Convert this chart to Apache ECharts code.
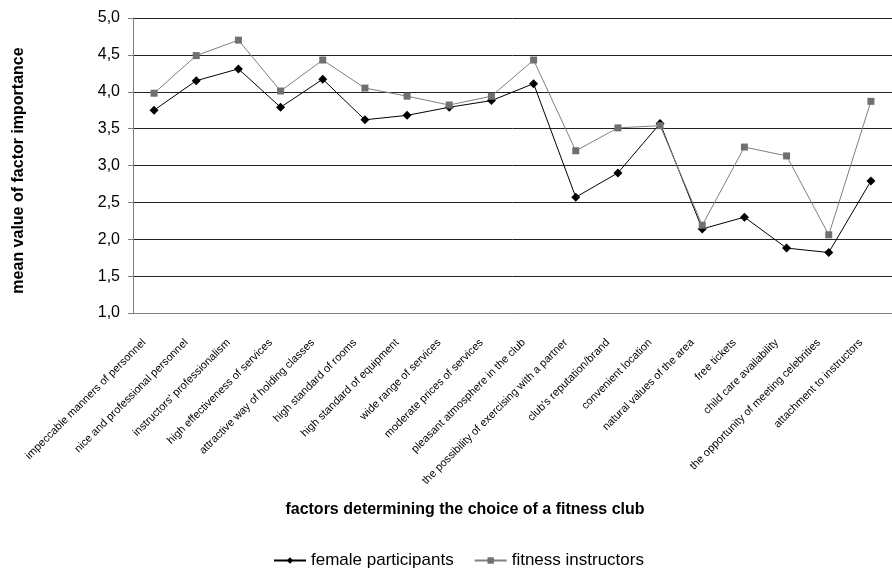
<!DOCTYPE html>
<html>
<head>
<meta charset="utf-8">
<script src="https://cdn.jsdelivr.net/npm/echarts@6/dist/echarts.min.js"></script>
<style>
  html, body { margin: 0; padding: 0; background: #fff; }
  #chart { width: 892px; height: 576px; }
</style>
</head>
<body>
<div id="chart"></div>
<script>
// Factors determining the choice of a fitness club
const factors = [
  'impeccable manners of personnel',
  'nice and professional personnel',
  "instructors' professionalism",
  'high effectiveness of services',
  'attractive way of holding classes',
  'high standard of rooms',
  'high standard of equipment',
  'wide range of services',
  'moderate prices of services',
  'pleasant atmosphere in the club',
  'the possibility of exercising with a partner',
  "club's reputation/brand",
  'convenient location',
  'natural values of the area',
  'free tickets',
  'child care availability',
  'the opportunity of meeting celebrities',
  'attachment to instructors'
];

// Mean importance ratings
const femaleParticipants = [3.75, 4.15, 4.31, 3.79, 4.17, 3.62, 3.68, 3.79, 3.88, 4.11, 2.57, 2.90, 3.57, 2.14, 2.30, 1.88, 1.82, 2.79];
const fitnessInstructors = [3.98, 4.49, 4.70, 4.01, 4.43, 4.05, 3.94, 3.82, 3.94, 4.43, 3.20, 3.51, 3.54, 2.19, 3.25, 3.13, 2.06, 3.87];

const yTicks = { min: 1, max: 5, step: 0.5 };

const FONT = '"Liberation Sans", Arial, sans-serif';

const chart = echarts.init(document.getElementById('chart'), null, { renderer: 'canvas' });

chart.setOption({
  animation: false,
  backgroundColor: '#ffffff',
  textStyle: { fontFamily: FONT },
  grid: { left: 133, top: 18, width: 773, height: 295, containLabel: false },
  legend: {
    left: 268,
    top: 547,
    itemWidth: 32,
    itemHeight: 8,
    itemGap: 20,
    textStyle: { fontFamily: FONT, fontSize: 17, color: '#000' },
    data: ['female participants', 'fitness instructors']
  },
  graphic: [{
    type: 'text',
    x: 465,
    y: 510,
    style: {
      text: 'factors determining the choice of a fitness club',
      font: 'bold 16px ' + FONT,
      fill: '#000',
      textAlign: 'center',
      textVerticalAlign: 'middle'
    }
  }],
  xAxis: {
    type: 'category',
    data: factors,
    boundaryGap: true,
    axisLine: { show: true, lineStyle: { color: '#808080', width: 1 } },
    axisTick: { show: false },
    axisLabel: {
      interval: 0,
      rotate: 45,
      fontSize: 11,
      color: '#000',
      fontFamily: FONT,
      margin: 18,
      padding: [0, 14, 0, 0]
    }
  },
  yAxis: {
    type: 'value',
    min: yTicks.min,
    max: yTicks.max,
    interval: yTicks.step,
    name: 'mean value of factor importance',
    nameLocation: 'middle',
    nameGap: 106,
    nameTextStyle: {
      fontFamily: FONT, fontSize: 16, fontWeight: 'bold', color: '#000',
      padding: [0, 10, 0, 0]
    },
    axisLine: { show: true, lineStyle: { color: '#808080', width: 1 } },
    axisTick: { show: true, length: 5, inside: false, lineStyle: { color: '#808080' } },
    axisLabel: {
      fontSize: 16,
      color: '#000',
      fontFamily: FONT,
      margin: 13,
      formatter: v => v.toFixed(1).replace('.', ',')
    },
    splitLine: { show: true, lineStyle: { color: '#222', width: 1 } }
  },
  series: [
    {
      name: 'female participants',
      type: 'line',
      data: femaleParticipants,
      symbol: 'diamond',
      symbolSize: 9,
      lineStyle: { color: '#000', width: 1 },
      itemStyle: { color: '#000' }
    },
    {
      name: 'fitness instructors',
      type: 'line',
      data: fitnessInstructors,
      symbol: 'rect',
      symbolSize: 7,
      lineStyle: { color: '#808080', width: 1 },
      itemStyle: { color: '#707070' }
    }
  ]
});
</script>
</body>
</html>
